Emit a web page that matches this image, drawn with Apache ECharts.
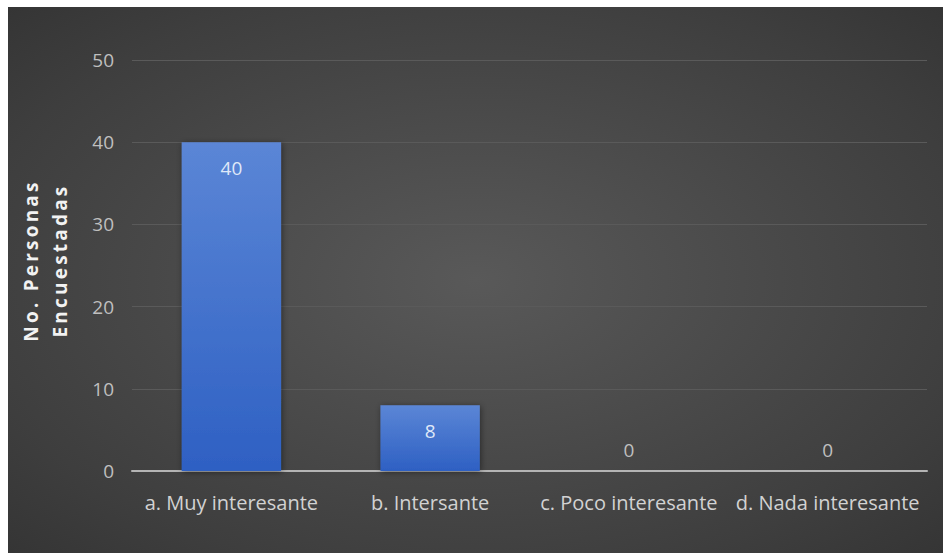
<!DOCTYPE html>
<html>
<head>
<meta charset="utf-8">
<script src="https://cdn.jsdelivr.net/npm/echarts@6/dist/echarts.min.js"></script>
<style>
  html, body { margin: 0; padding: 0; background: #ffffff; overflow: hidden; }
  #chart { position: absolute; left: 8px; top: 7px; width: 935px; height: 546px; }
  /* spaced-out lettering for the bold axis title */
  #chart svg text[style*="bold"] { letter-spacing: 3.2px; }
</style>
</head>
<body>
<div id="chart"></div>
<script>
// Survey answers and number of respondents per answer
const categories = ['a. Muy interesante', 'b. Intersante', 'c. Poco interesante', 'd. Nada interesante'];
const respondents = [40, 8, 0, 0];
const yTicks = { min: 0, max: 50, interval: 10 };
const yTitle = 'No. Personas\nEncuestadas';

const chart = echarts.init(document.getElementById('chart'), null, { renderer: 'svg' });

const W = 935, H = 546;

// zero-height bars get their value label just above the axis
const barData = respondents.map(v => v === 0
  ? { value: v, label: { position: 'top', distance: 12, color: '#bfbfbf' } }
  : { value: v });

chart.setOption({
  backgroundColor: 'transparent',
  animation: false,
  graphic: [{
    type: 'rect',
    z: -100,
    silent: true,
    shape: { x: 0, y: 0, width: W, height: H },
    style: {
      fill: new echarts.graphic.RadialGradient(0.5, 0.5, 1, [
        { offset: 0, color: '#595959' },
        { offset: 0.55, color: '#3e3e3e' },
        { offset: 1, color: '#242424' }
      ])
    }
  }],
  grid: { left: 119, right: 16, top: 53, bottom: 82, containLabel: false },
  xAxis: {
    type: 'category',
    data: categories,
    axisLine: { show: true, lineStyle: { color: '#b4b4b4', width: 2 } },
    axisTick: { show: false },
    axisLabel: {
      color: '#d2d2d2',
      fontFamily: 'Open Sans',
      fontSize: 20,
      margin: 21,
      interval: 0
    }
  },
  yAxis: {
    type: 'value',
    min: yTicks.min,
    max: yTicks.max,
    interval: yTicks.interval,
    name: yTitle,
    nameLocation: 'middle',
    nameRotate: 90,
    nameGap: 58,
    nameTextStyle: {
      color: '#f2f2f2',
      fontFamily: 'Open Sans',
      fontWeight: 'bold',
      fontSize: 19,
      lineHeight: 29,
      align: 'center',
      padding: [0, 0, 0, 10]
    },
    axisLine: { show: false },
    axisTick: { show: false },
    axisLabel: {
      color: '#bfbfbf',
      fontFamily: 'Open Sans',
      fontSize: 19,
      margin: 18
    },
    splitLine: { lineStyle: { color: '#5a5a5a', width: 1 } }
  },
  series: [{
    type: 'bar',
    data: barData,
    barWidth: '50%',
    itemStyle: {
      color: new echarts.graphic.LinearGradient(0, 0, 0, 1, [
        { offset: 0, color: '#5b86d6' },
        { offset: 1, color: '#2e60c3' }
      ]),
      shadowBlur: 6,
      shadowColor: 'rgba(0,0,0,0.45)',
      shadowOffsetX: 1,
      shadowOffsetY: 1
    },
    label: {
      show: true,
      position: 'insideTop',
      distance: 16,
      color: '#dfe8f8',
      fontFamily: 'Open Sans',
      fontSize: 19
    }
  }]
});
</script>
</body>
</html>
